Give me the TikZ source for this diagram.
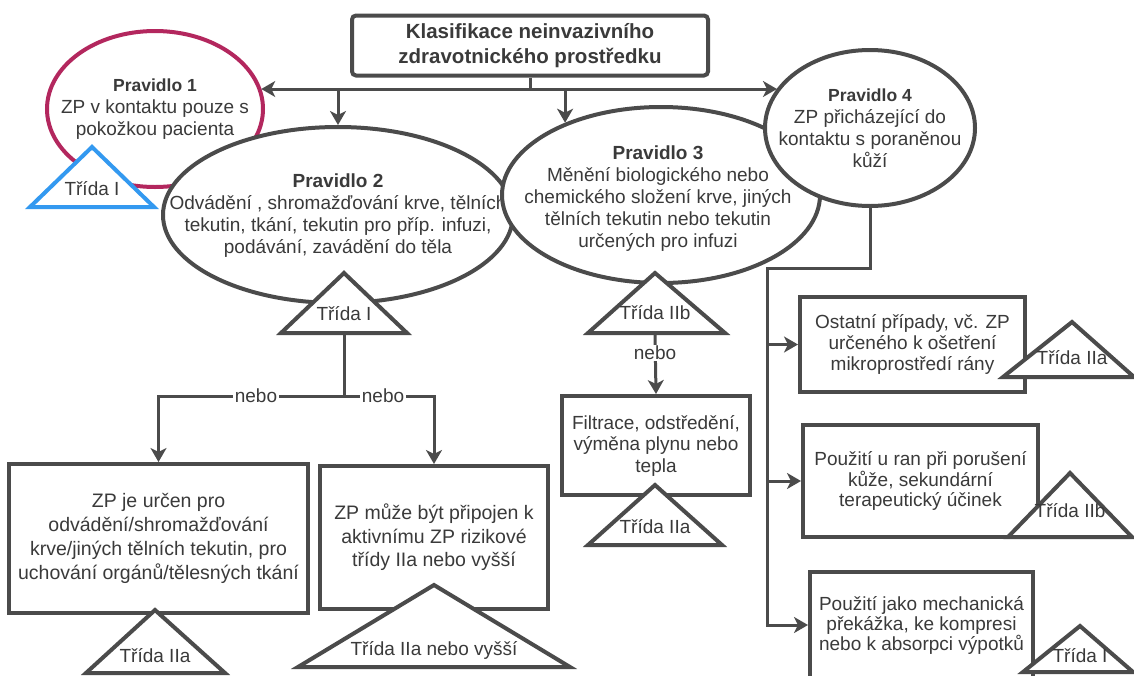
\documentclass[tikz,border=0pt]{standalone}
\usepackage{fontspec}
\setmainfont{Liberation Sans}
\usetikzlibrary{shapes.geometric,arrows.meta}
\definecolor{cline}{HTML}{4B4B4B}
\definecolor{ctext}{HTML}{3A3A3A}
\definecolor{crim}{HTML}{B3275E}
\definecolor{cblue}{HTML}{3399F0}

\begin{document}
\begin{tikzpicture}[x=1pt,y=-1pt,
  conn/.style={draw=cline, line width=3pt},
  arr/.style={conn, -{Stealth[length=14pt,width=16pt,inset=4pt]}},
  frame/.style={rectangle, draw=cline, line width=4pt, fill=white, inner sep=0pt,
    text=ctext, align=center, font=\fontsize{19}{21}\selectfont},
  oval/.style={ellipse, draw=cline, line width=4pt, fill=white, inner sep=0pt},
  txt/.style={text=ctext, align=center, inner sep=0pt, font=\fontsize{19}{22}\selectfont},
  tri/.style={draw=cline, line width=4pt, fill=white, line join=miter},
  lbl/.style={txt, fill=white, inner sep=1.5pt},
  head/.style={font=\fontsize{17.5}{22}\selectfont\bfseries},
]
\useasboundingbox (0,0) rectangle (1134,675);
\clip (0,0) rectangle (1134,675);

% title
\node[frame, rounded corners=4pt, minimum width=356pt, minimum height=60pt,
  font=\fontsize{20.5}{25}\selectfont\bfseries] (title) at (530,45.5)
  {Klasifikace neinvazivního\\zdravotnického prostředku};

% rule 1
\node[oval, draw=crim, minimum width=216pt, minimum height=156pt] (r1) at (155,109) {};
\node[txt] (r1t) at (155,109) {{\fontsize{17.5}{22}\selectfont\bfseries Pravidlo 1}\\ZP v kontaktu pouze s\\pokožkou pacienta};
\draw[tri, draw=cblue] (92,147) coordinate (t1a) -- (154,207) -- (30,207) -- cycle;
\node[txt] (t1) at (92,189) {Třída I};

% rule 2
\node[oval, minimum width=350pt, minimum height=176pt] (r2) at (338,215) {};
\node[txt] (r2t) at (338,216) {{\bfseries Pravidlo 2}\\Odvádění , shromažďování krve, tělních\\tekutin, tkání, tekutin pro příp. infuzi,\\podávání, zavádění do těla};

% rule 3
\node[oval, minimum width=318pt, minimum height=176pt] (r3) at (661,195) {};
\node[txt] (r3t) at (658,199) {{\bfseries Pravidlo 3}\\Měnění biologického nebo\\chemického složení krve, jiných\\tělních tekutin nebo tekutin\\určených pro infuzi};

% rule 4
\node[oval, minimum width=210pt, minimum height=156pt] (r4) at (870,128) {};
\node[txt] (r4t) at (870,128.5) {{\fontsize{17.5}{22}\selectfont\bfseries Pravidlo 4}\\ZP přicházející do\\kontaktu s poraněnou\\kůží};

% classes of rules 2 and 3
\draw[tri] (344,273) -- (407,333) -- (281,333) -- cycle;
\node[txt] (t2) at (344,314) {Třída I};
\coordinate (t2b) at (344,333);
\draw[tri] (655,273) -- (725,333) -- (588,333) -- cycle;
\node[txt] (t3) at (655,313) {Třída IIb};
\coordinate (t3b) at (655,333);

% connectors from the title
\coordinate (bus) at (530,89);
\draw[conn] (title.south) -- (bus);
\draw[arr] (bus) -- (bus -| r1.11);
\draw[arr] (bus) -- (bus -| r4.157);
\draw[arr] (bus -| r2.north) -- (r2.north);
\draw[arr] (bus -| r3.143) -- (r3.143);

% branches of rule 2
\node[frame, minimum width=299pt, minimum height=149pt, font=\fontsize{19.5}{24}\selectfont] (b1) at (158.5,538.5)
  {ZP je určen pro\\odvádění/shromažďování\\krve/jiných tělních tekutin, pro\\uchování orgánů/tělesných tkání};
\node[frame, minimum width=228pt, minimum height=143pt, font=\fontsize{19.5}{23.5}\selectfont] (b2) at (434,537.5)
  {ZP může být připojen k\\aktivnímu ZP rizikové\\třídy IIa nebo vyšší};
\coordinate (split) at (344,396);
\draw[conn] (t2b) -- (split);
\draw[arr] (split) -| (b1.north);
\draw[arr] (split) -| (b2.north);
\node[lbl] (n1) at (256,396) {nebo};
\node[lbl] (n2) at (383,396) {nebo};
\draw[tri] (155,610) -- (225,673) -- (86,673) -- cycle;
\node[txt] (t4) at (155,656) {Třída IIa};
\draw[tri] (434,585) -- (570,667) -- (298,667) -- cycle;
\node[txt] (t5) at (434,650) {Třída IIa nebo vyšší};

% branch of rule 3
\node[frame, minimum width=188pt, minimum height=99pt, font=\fontsize{19}{21.5}\selectfont] (bf) at (656,445.5)
  {Filtrace, odstředění,\\výměna plynu nebo\\tepla};
\draw[arr] (t3b) -- (bf.north);
\node[lbl] (n3) at (655,353) {nebo};
\draw[tri] (655,485) -- (722,545) -- (588,545) -- cycle;
\node[txt] (t6) at (655,527) {Třída IIa};

% branches of rule 4
\node[frame, minimum width=225pt, minimum height=95pt] (ba) at (912.5,344.5)
  {Ostatní případy, vč. ZP\\určeného k ošetření\\mikroprostředí rány};
\node[frame, minimum width=235pt, minimum height=112pt, font=\fontsize{19}{20.5}\selectfont] (bb) at (920.5,481)
  {Použití u ran při porušení\\kůže, sekundární\\terapeutický účinek};
\node[frame, minimum width=223pt, minimum height=106pt, font=\fontsize{19}{20}\selectfont] (bc) at (921.5,625)
  {Použití jako mechanická\\překážka, ke kompresi\\nebo k absorpci výpotků};
\coordinate (knee) at (767,268);
\draw[arr] (r4.south) |- (knee) |- (bc.west);
\draw[arr] (ba.west -| knee) -- (ba.west);
\draw[arr] (bb.west -| knee) -- (bb.west);
\draw[tri] (1072,322) -- (1134,377) -- (1003,377) -- cycle;
\node[txt] (t7) at (1072,358) {Třída IIa};
\draw[tri] (1070,473) -- (1132,537) -- (1008,537) -- cycle;
\node[txt] (t8) at (1070,511) {Třída IIb};
\draw[tri] (1080,626) -- (1133,672) -- (1023,672) -- cycle;
\node[txt] (t9) at (1080,656) {Třída I};
\end{tikzpicture}
\end{document}
